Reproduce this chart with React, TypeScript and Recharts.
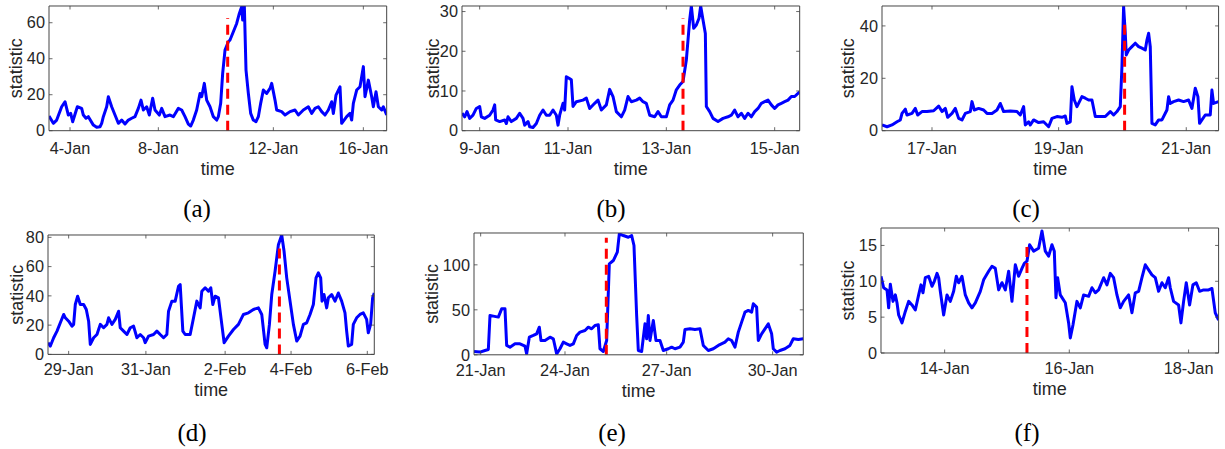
import React from "react";
import { LineChart, Line, XAxis, YAxis, ReferenceLine } from "recharts";

// sample index along each panel's time axis, statistic value
const seriesA: [number, number][] = [
  [0, 8.1], [13, 4.1], [23, 5.9], [38, 13.3], [48, 16.1], [58, 8.7], [65, 9.6], [71, 5], [85, 13.3], [98, 12.4],
  [103, 8.7], [111, 6.9], [118, 7.8], [133, 3.1], [143, 1.9], [153, 2.2], [158, 4.1], [163, 7.8], [173, 13.3], [178, 18.9],
  [188, 13.3], [198, 8.7], [208, 4.1], [218, 5.9], [228, 3.7], [238, 5.9], [248, 6.9], [258, 7.8], [268, 12.4], [276, 17],
  [283, 11.5], [293, 13.3], [301, 8.7], [311, 18], [318, 11.5], [331, 8.7], [338, 12.4], [348, 7.8], [363, 8.7], [373, 7.8],
  [388, 12.4], [398, 11.5], [408, 7.8], [418, 3.7], [425, 2.6], [433, 5.9], [443, 11.5], [453, 20.7], [458, 18.9], [466, 26.3],
  [473, 17], [483, 13.3], [493, 7.8], [503, 5.9], [508, 7.8], [515, 15.2], [521, 31.9], [528, 44.8], [538, 49.4], [543, 50.4],
  [553, 55], [563, 59.6], [571, 65.2], [578, 68.9], [581, 61.5], [586, 69.3], [591, 33.7], [598, 20.7], [605, 9.6], [613, 5.9],
  [621, 5], [628, 7.8], [635, 15.2], [643, 22.6], [653, 20.7], [663, 23.5], [668, 26.3], [673, 21.7], [678, 17], [683, 11.5],
  [698, 10.6], [708, 8.7], [723, 10.6], [738, 11.5], [748, 8.7], [763, 11.5], [778, 13.3], [788, 9.6], [798, 12.4], [808, 13.3],
  [818, 10.6], [828, 8.7], [838, 11.5], [848, 16.1], [853, 9.6], [861, 19.8], [873, 24.4], [878, 4.1], [893, 7.8], [903, 9.6],
  [908, 5.9], [913, 15.2], [923, 22.6], [933, 24.4], [943, 35.6], [948, 18.9], [958, 28.1], [968, 18.9], [973, 13.3], [981, 21.7],
  [988, 13.3], [998, 11.5], [1003, 13.3], [1013, 8.7],
];
const seriesB: [number, number][] = [
  [0, 4.4], [8, 3.5], [15, 4.8], [23, 3.1], [33, 3.9], [43, 5.6], [53, 6.1], [58, 3.5], [68, 3.1], [83, 3.9],
  [93, 5.2], [98, 6.5], [101, 2.7], [113, 2.3], [128, 2.7], [133, 1.8], [138, 3.5], [148, 2.3], [163, 3.1], [173, 4.4],
  [183, 3.1], [188, 1.4], [198, 2.3], [203, 1.0], [213, 0.8], [223, 1.8], [233, 3.9], [243, 5.2], [253, 3.9], [263, 3.9],
  [273, 5.2], [283, 3.9], [288, 1.4], [293, 3.9], [303, 6.9], [308, 5.2], [313, 13.6], [321, 13.2], [328, 12.8], [333, 6.1],
  [343, 7.3], [363, 7.7], [373, 8.2], [383, 5.6], [398, 6.9], [408, 7.7], [418, 5.2], [433, 6.5], [443, 10.4], [453, 8.6],
  [463, 4.8], [478, 3.5], [488, 5.2], [498, 8.6], [508, 7.3], [523, 7.7], [533, 8.2], [543, 7.3], [553, 6.9], [563, 3.9],
  [578, 3.5], [588, 4.8], [598, 3.5], [613, 3.5], [623, 6.5], [633, 7.7], [643, 10.3], [653, 11.5], [663, 12.4], [673, 17.8],
  [683, 27.9], [688, 31.4], [695, 25.8], [703, 26.6], [711, 28.3], [716, 31.4], [723, 27.9], [730, 24.5], [733, 6.1], [743, 4.8],
  [753, 3.1], [768, 2.3], [783, 3.1], [798, 3.5], [808, 3.9], [818, 5.2], [828, 3.5], [838, 4.4], [848, 3.1], [858, 4.4],
  [868, 3.5], [878, 4.8], [888, 5.6], [898, 6.9], [908, 7.3], [918, 7.7], [928, 6.5], [938, 5.6], [948, 6.5], [958, 6.9],
  [968, 7.3], [978, 7.7], [988, 8.6], [998, 8.6], [1013, 9.8],
];
const seriesC: [number, number][] = [
  [0, 2.2], [15, 1.5], [30, 2.2], [45, 3.4], [55, 4.1], [60, 6.6], [70, 8.2], [75, 6.0], [90, 6.6], [100, 8.5],
  [107, 6.0], [120, 7.3], [135, 7.3], [155, 7.6], [170, 9.4], [180, 7.3], [190, 8.5], [197, 5.1], [210, 6.6], [220, 8.5],
  [230, 4.7], [240, 4.1], [250, 6.6], [265, 7.3], [270, 11.1], [277, 7.9], [290, 8.5], [305, 7.9], [315, 6.6], [330, 6.6],
  [345, 7.9], [355, 10.4], [365, 7.3], [385, 7.5], [405, 7.3], [415, 6.0], [425, 9.2], [430, 2.2], [440, 3.4], [445, 2.2],
  [455, 4.1], [470, 3.1], [485, 3.4], [500, 1.5], [510, 4.7], [525, 5.4], [540, 5.1], [550, 5.6], [555, 2.8], [565, 3.4],
  [570, 16.8], [577, 11.7], [585, 9.2], [600, 13.0], [610, 12.4], [620, 11.7], [630, 11.7], [640, 5.4], [655, 5.4], [670, 5.4],
  [685, 7.3], [695, 6.0], [705, 7.3], [715, 9.2], [720, 24.5], [725, 47.4], [730, 37.2], [733, 28.9], [740, 30.8], [750, 32.1],
  [760, 33.4], [770, 32.1], [780, 31.5], [790, 30.8], [795, 34.6], [800, 37.2], [805, 32.1], [810, 2.8], [820, 2.2], [830, 4.1],
  [840, 4.1], [855, 7.9], [860, 13.0], [865, 10.4], [875, 11.1], [890, 11.7], [905, 11.1], [920, 11.7], [930, 8.5], [940, 16.2],
  [948, 13.0], [953, 2.8], [960, 4.1], [970, 6.0], [985, 6.0], [990, 15.5], [995, 10.4], [1010, 11.1],
];
const seriesD: [number, number][] = [
  [0, 8.0], [7, 5.7], [17, 11.4], [27, 15.9], [37, 21.6], [47, 27.3], [52, 25.0], [62, 22.7], [72, 19.3], [77, 20.5],
  [82, 34.1], [89, 39.8], [97, 34.1], [107, 34.1], [115, 30.7], [122, 22.7], [127, 6.8], [137, 11.4], [147, 13.6], [157, 20.5],
  [167, 18.2], [177, 20.5], [182, 25.0], [192, 20.5], [202, 23.9], [212, 29.5], [217, 18.2], [227, 15.9], [237, 13.6], [247, 18.2],
  [257, 19.3], [267, 11.4], [277, 13.6], [287, 11.4], [292, 8.0], [302, 12.5], [317, 13.6], [327, 15.9], [337, 13.6], [347, 11.4],
  [357, 13.6], [362, 29.5], [372, 36.4], [382, 36.4], [392, 46.6], [397, 47.7], [405, 15.9], [412, 13.6], [427, 13.6], [435, 22.7],
  [447, 36.4], [457, 31.8], [462, 43.2], [472, 45.5], [482, 43.2], [489, 45.5], [495, 34.1], [502, 39.8], [512, 38.6], [522, 20.5],
  [529, 8.0], [542, 12.5], [557, 17.0], [572, 20.5], [587, 27.3], [602, 28.4], [617, 30.7], [632, 31.8], [642, 27.3], [652, 6.8],
  [657, 4.5], [665, 20.5], [672, 40.9], [682, 56.8], [692, 75.0], [702, 81.6], [709, 70.5], [717, 52.3], [727, 36.4], [737, 20.5],
  [747, 9.1], [757, 12.5], [767, 20.5], [777, 21.6], [787, 27.3], [797, 34.1], [805, 52.3], [812, 55.7], [819, 52.3], [823, 36.4],
  [829, 40.9], [837, 31.8], [842, 38.6], [852, 40.9], [862, 36.4], [872, 42.0], [882, 36.4], [892, 28.4], [897, 15.9], [902, 5.7],
  [912, 6.8], [917, 20.5], [927, 25.0], [937, 27.3], [947, 28.4], [957, 23.9], [962, 14.8], [969, 20.5], [975, 38.6], [980, 42.0],
];
const seriesE: [number, number][] = [
  [0, 3.7], [18, 3.0], [33, 4.8], [43, 5.9], [48, 43.7], [58, 43.0], [73, 41.9], [83, 51.1], [93, 51.1], [98, 10.4],
  [108, 8.5], [123, 12.2], [138, 12.2], [153, 9.6], [158, 1.1], [166, 19.6], [178, 21.5], [188, 23.3], [196, 30.7], [201, 15.9],
  [213, 15.9], [228, 19.6], [238, 17.8], [248, 1.1], [258, 6.7], [268, 14.1], [278, 12.2], [288, 10.4], [298, 12.2], [308, 21.5],
  [318, 25.2], [333, 27.0], [343, 30.7], [353, 28.9], [363, 32.6], [373, 33.3], [378, 6.7], [388, 3.7], [398, 15.9], [406, 101.1],
  [418, 104.8], [430, 114.1], [436, 134.4], [448, 132.6], [463, 130.7], [473, 132.6], [480, 121.5], [488, 43.7], [493, 4.8], [503, 3.7],
  [513, 34.4], [518, 17.8], [523, 43.7], [528, 15.9], [538, 38.1], [546, 15.9], [558, 15.9], [568, 4.8], [583, 6.7], [593, 8.5],
  [603, 6.7], [618, 8.5], [628, 14.1], [633, 28.1], [648, 28.9], [663, 28.1], [678, 28.9], [688, 10.4], [703, 4.8], [718, 6.7],
  [733, 10.4], [753, 14.1], [763, 17.8], [773, 15.9], [783, 8.5], [793, 25.2], [803, 36.3], [813, 47.4], [823, 49.3], [833, 47.4],
  [838, 56.7], [848, 53.0], [853, 15.9], [863, 23.3], [873, 28.9], [883, 34.4], [893, 23.3], [898, 6.7], [908, 3.0], [918, 4.8],
  [933, 6.7], [948, 10.4], [958, 17.8], [973, 17.0], [988, 17.8],
];
const seriesF: [number, number][] = [
  [0, 10.7], [8, 9.1], [18, 8.8], [23, 6.3], [28, 9.6], [36, 7.2], [43, 8.1], [48, 7.0], [53, 5.3], [63, 4.2],
  [73, 5.8], [83, 7.2], [93, 6.7], [103, 6.0], [113, 8.1], [120, 9.5], [126, 8.4], [133, 10.5], [143, 10.7], [153, 9.3],
  [160, 10.0], [168, 11.1], [173, 10.5], [178, 8.6], [188, 5.3], [198, 8.1], [208, 7.2], [218, 8.6], [226, 10.7], [233, 9.8],
  [243, 10.7], [253, 8.1], [263, 7.0], [273, 6.3], [283, 7.0], [298, 8.6], [308, 10.2], [323, 11.4], [333, 12.1], [343, 11.8],
  [353, 8.8], [363, 9.8], [373, 8.8], [383, 11.4], [393, 7.2], [403, 12.3], [413, 10.7], [423, 11.8], [430, 12.5], [438, 12.8],
  [446, 15.1], [458, 14.2], [473, 14.6], [483, 17.0], [493, 14.2], [503, 13.5], [513, 15.1], [520, 14.2], [525, 7.7], [530, 10.5],
  [538, 8.1], [553, 7.0], [563, 4.2], [568, 2.1], [576, 3.9], [588, 7.2], [598, 6.3], [608, 8.1], [623, 7.9], [633, 9.1],
  [643, 8.4], [653, 8.8], [668, 10.5], [678, 9.5], [688, 11.1], [698, 10.5], [708, 8.1], [718, 6.3], [728, 7.2], [743, 8.1],
  [753, 5.6], [763, 8.4], [773, 8.6], [783, 10.5], [793, 12.3], [803, 11.6], [813, 10.9], [823, 10.5], [833, 8.6], [843, 9.8],
  [853, 9.1], [863, 10.5], [868, 9.1], [878, 7.2], [893, 6.7], [900, 4.2], [908, 7.2], [916, 9.8], [926, 6.7], [936, 9.5],
  [946, 9.8], [956, 8.6], [968, 8.8], [983, 8.8], [993, 9.0], [1003, 5.6], [1013, 4.6],
];

// x tick positions (sample index) and their date labels
const ticksA = [63, 328, 673, 943];
const labelsA = ["4-Jan", "8-Jan", "12-Jan", "16-Jan"];
const ticksB = [53, 318, 613, 938];
const labelsB = ["9-Jan", "11-Jan", "13-Jan", "15-Jan"];
const ticksC = [150, 530, 913];
const labelsC = ["17-Jan", "19-Jan", "21-Jan"];
const ticksD = [62, 294, 532, 730, 959];
const labelsD = ["29-Jan", "31-Jan", "2-Feb", "4-Feb", "6-Feb"];
const ticksE = [20, 273, 578, 896];
const labelsE = ["21-Jan", "24-Jan", "27-Jan", "30-Jan"];
const ticksF = [191, 565, 923];
const labelsF = ["14-Jan", "16-Jan", "18-Jan"];

// y ticks
const yTicksA = [0, 20, 40, 60];
const yTicksB = [0, 10, 20, 30];
const yTicksC = [0, 20, 40];
const yTicksD = [0, 20, 40, 60, 80];
const yTicksE = [0, 50, 100];
const yTicksF = [0, 5, 10, 15];

// change point (sample index, height of dashed marker)
const eventA = [536, 62.6];
const eventB = [663, 28.3];
const eventC = [728, 42.3];
const eventD = [695, 73.9];
const eventE = [397, 130];
const eventF = [438, 15.6];

const captions = ["(a)", "(b)", "(c)", "(d)", "(e)", "(f)"];

const SANS = "'Liberation Sans', Arial, Helvetica, sans-serif";
const SERIF = "'Liberation Serif', 'Times New Roman', serif";
const AX = "#444444";
const TXT = "#262626";
const TL = 3.5;
const TICK_FS = 16.3;
const LABEL_FS = 18;

const L = 60;
const R = 24;
const T = 12;
const B = 50;

type Box = { left: number; top: number; right: number; bottom: number };
type Panel = {
  data: [number, number][];
  xMax: number;
  yMax: number;
  xTicks: number[];
  xLabels: string[];
  yTicks: number[];
  event: number[];
  box: Box;
  statOffset: number;
  timeOffset: number;
  tickGap: number;
  capX: number;
  capY: number;
};

const panels: Panel[] = [
  { data: seriesA, xMax: 1013, yMax: 69.3, xTicks: ticksA, xLabels: labelsA, yTicks: yTicksA, event: eventA,
    box: { left: 49, top: 6, right: 386.7, bottom: 130.7 }, statOffset: 26.2, timeOffset: 5.7, tickGap: 23, capX: 197, capY: 217 },
  { data: seriesB, xMax: 1013, yMax: 31.4, xTicks: ticksB, xLabels: labelsB, yTicks: yTicksB, event: eventB,
    box: { left: 462.3, top: 6, right: 800, bottom: 130.7 }, statOffset: 30.5, timeOffset: 5.7, tickGap: 23, capX: 611, capY: 217 },
  { data: seriesC, xMax: 1010, yMax: 47.6, xTicks: ticksC, xLabels: labelsC, yTicks: yTicksC, event: eventC,
    box: { left: 881.7, top: 6, right: 1218.3, bottom: 130.7 }, statOffset: 25.8, timeOffset: 5.7, tickGap: 23, capX: 1026, capY: 217 },
  { data: seriesD, xMax: 980, yMax: 81.6, xTicks: ticksD, xLabels: labelsD, yTicks: yTicksD, event: eventD,
    box: { left: 47.7, top: 235.3, right: 374, bottom: 354.7 }, statOffset: 28.5, timeOffset: 8.2, tickGap: 20.8, capX: 192, capY: 441 },
  { data: seriesE, xMax: 988, yMax: 135.4, xTicks: ticksE, xLabels: labelsE, yTicks: yTicksE, event: eventE,
    box: { left: 474, top: 232.5, right: 803.3, bottom: 354.3 }, statOffset: 17.8, timeOffset: 8.2, tickGap: 20.8, capX: 612, capY: 441 },
  { data: seriesF, xMax: 1013, yMax: 17.43, xTicks: ticksF, xLabels: labelsF, yTicks: yTicksF, event: eventF,
    box: { left: 880.7, top: 228.3, right: 1218.3, bottom: 353.3 }, statOffset: 26.8, timeOffset: 8.2, tickGap: 20.8, capX: 1027, capY: 441 },
];

function BottomTick(props: any) {
  const { x, y, payload, fmt, gap } = props;
  return (
    <g>
      <line x1={x} y1={y} x2={x} y2={y - TL} stroke={AX} strokeWidth={0.8} />
      <text x={x} y={y + gap} textAnchor="middle" fill={TXT} fontSize={TICK_FS} fontFamily={SANS}>
        {fmt(payload.value)}
      </text>
    </g>
  );
}

function TopTick(props: any) {
  const { x, y } = props;
  return <line x1={x} y1={y} x2={x} y2={y + TL} stroke={AX} strokeWidth={0.8} />;
}

function LeftTick(props: any) {
  const { x, y, payload } = props;
  return (
    <g>
      <line x1={x} y1={y} x2={x + TL} y2={y} stroke={AX} strokeWidth={0.8} />
      <text x={x - 4} y={y} dy="0.35em" textAnchor="end" fill={TXT} fontSize={TICK_FS} fontFamily={SANS}>
        {payload.value}
      </text>
    </g>
  );
}

function RightTick(props: any) {
  const { x, y } = props;
  return <line x1={x} y1={y} x2={x - TL} y2={y} stroke={AX} strokeWidth={0.8} />;
}

function PanelChart({ p }: { p: Panel }) {
  const w = p.box.right - p.box.left + L + R;
  const h = p.box.bottom - p.box.top + T + B;
  const rows = p.data.map(([t, v]) => ({ t, v }));
  const fmtX = (val: number) => p.xLabels[p.xTicks.indexOf(val)] ?? "";

  return (
    <div style={{ position: "absolute", left: p.box.left - L, top: p.box.top - T }}>
      <LineChart width={w} height={h} data={rows} margin={{ top: T - 1, right: R - 1, bottom: 0, left: 0 }}>
        <XAxis
          dataKey="t"
          type="number"
          domain={[0, p.xMax]}
          ticks={p.xTicks}
          interval={0}
          allowDataOverflow
          height={B}
          tickLine={false}
          tickSize={0}
          tickMargin={0}
          stroke={AX}
          tick={(props: any) => <BottomTick {...props} fmt={fmtX} gap={p.tickGap} />}
          label={{ value: "time", position: "insideBottom", offset: p.timeOffset, fill: TXT, fontSize: LABEL_FS, fontFamily: SANS }}
        />
        <XAxis
          xAxisId="top"
          orientation="top"
          dataKey="t"
          type="number"
          domain={[0, p.xMax]}
          ticks={p.xTicks}
          interval={0}
          allowDataOverflow
          height={1}
          tickLine={false}
          tickSize={0}
          tickMargin={0}
          stroke={AX}
          tick={TopTick}
        />
        <YAxis
          type="number"
          domain={[0, p.yMax]}
          ticks={p.yTicks}
          interval={0}
          allowDataOverflow
          width={L}
          tickLine={false}
          tickSize={0}
          tickMargin={0}
          stroke={AX}
          tick={LeftTick}
          label={{
            value: "statistic",
            angle: -90,
            position: "insideLeft",
            offset: p.statOffset,
            fill: TXT,
            fontSize: LABEL_FS,
            fontFamily: SANS,
            style: { textAnchor: "middle" },
          }}
        />
        <YAxis
          yAxisId="right"
          orientation="right"
          type="number"
          domain={[0, p.yMax]}
          ticks={p.yTicks}
          interval={0}
          allowDataOverflow
          width={1}
          tickLine={false}
          tickSize={0}
          tickMargin={0}
          stroke={AX}
          tick={RightTick}
        />
        {/* invisible copy tied to the top/right axes so the box is drawn */}
        <Line
          xAxisId="top"
          yAxisId="right"
          type="linear"
          dataKey="v"
          stroke="none"
          dot={false}
          activeDot={false}
          isAnimationActive={false}
        />
        <Line
          type="linear"
          dataKey="v"
          stroke="#0000ff"
          strokeWidth={3}
          strokeLinejoin="round"
          dot={false}
          activeDot={false}
          isAnimationActive={false}
        />
        <ReferenceLine
          segment={[
            { x: p.event[0], y: 0 },
            { x: p.event[0], y: p.event[1] },
          ]}
          stroke="#ff0000"
          strokeWidth={3}
          strokeDasharray="10 6"
        />
      </LineChart>
    </div>
  );
}

export default function App() {
  return (
    <div
      style={{
        position: "absolute",
        left: 0,
        top: 0,
        width: 1225,
        height: 449,
        background: "#ffffff",
        overflow: "hidden",
      }}
    >
      {panels.map((p, i) => (
        <PanelChart key={i} p={p} />
      ))}
      <svg width={1225} height={449} style={{ position: "absolute", left: 0, top: 0, pointerEvents: "none" }}>
        {panels.map((p, i) => (
          <text key={i} x={p.capX} y={p.capY} textAnchor="middle" fontSize={25} fontFamily={SERIF} fill="#000">
            {captions[i]}
          </text>
        ))}
      </svg>
    </div>
  );
}
